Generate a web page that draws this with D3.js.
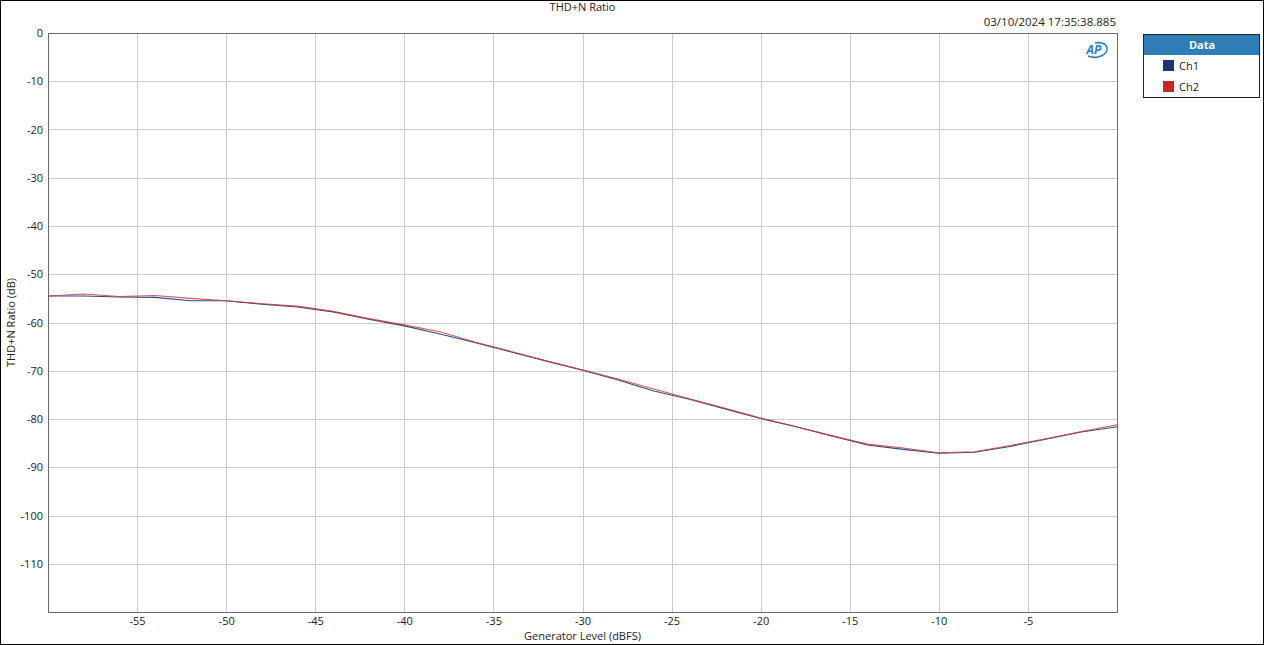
<!DOCTYPE html>
<html><head><meta charset="utf-8">
<script src="https://cdn.jsdelivr.net/npm/d3@7"></script>
<style>
html,body{margin:0;padding:0;background:#fff;}
svg{display:block;}
text{font-family:"Open Sans","Noto Sans",sans-serif;}
</style></head>
<body>
<script>
// ---- data ----
const levels = [-60,-58,-56,-54,-52,-50,-48,-46,-44,-42,-40,-38,-36,-34,-32,-30,-28,-26,-24,-22,-20,-18,-16,-14,-12,-10,-8,-6,-4,-2,0];
const ch1 = [-54.5,-54.5,-54.7,-54.8,-55.5,-55.5,-56.2,-56.8,-57.8,-59.3,-60.7,-62.4,-64.2,-66.1,-68.0,-69.9,-71.9,-74.2,-75.9,-77.9,-79.9,-81.6,-83.5,-85.4,-86.3,-87.1,-86.9,-85.7,-84.2,-82.7,-81.6];
const ch2 = [-54.5,-54.1,-54.6,-54.4,-55.0,-55.5,-56.1,-56.6,-57.7,-59.2,-60.5,-61.9,-64.1,-66.0,-68.0,-69.8,-71.7,-73.8,-75.8,-77.8,-79.8,-81.6,-83.5,-85.2,-86.0,-87.0,-86.8,-85.5,-84.1,-82.6,-81.2];
const xTicks = [-55,-50,-45,-40,-35,-30,-25,-20,-15,-10,-5];
const yTicks = [0,-10,-20,-30,-40,-50,-60,-70,-80,-90,-100,-110];
const seriesNames = ["Ch1","Ch2"];
const seriesColors = ["#2b4a8c","#d23a3a"];
const swatchColors = ["#1a3478","#c8252a"];

const W=1264,H=645;
const L=48,R=1117,T=33,B=612;
const svg=d3.select("body").append("svg").attr("width",W).attr("height",H);
svg.append("rect").attr("x",0.5).attr("y",0.5).attr("width",W-1).attr("height",H-1).attr("fill","#fff").attr("stroke","#000");

const x=d3.scaleLinear().domain([-60,0]).range([L,R]);
const y=d3.scaleLinear().domain([-120,0]).range([B,T]);
const fmt=d=>String(d);

// grid
const g=svg.append("g");
g.selectAll(".vg").data(xTicks).join("line").attr("x1",d=>Math.round(x(d))+0.5).attr("x2",d=>Math.round(x(d))+0.5).attr("y1",T).attr("y2",B).attr("stroke","#cccccc");
g.selectAll(".hg").data(yTicks.slice(1)).join("line").attr("y1",d=>Math.round(y(d))+0.5).attr("y2",d=>Math.round(y(d))+0.5).attr("x1",L).attr("x2",R).attr("stroke","#cccccc");

// axes
const xa=svg.append("g").attr("transform",`translate(0,${B})`).call(d3.axisBottom(x).tickValues(xTicks).tickSize(0).tickPadding(5).tickFormat(fmt));
xa.select(".domain").remove();
const ya=svg.append("g").attr("transform",`translate(${L},0)`).call(d3.axisLeft(y).tickValues(yTicks).tickSize(0).tickPadding(5).tickFormat(fmt));
ya.select(".domain").remove();
svg.selectAll(".tick text").attr("font-size","11px").attr("fill","#222").attr("font-family","'Open Sans','Noto Sans',sans-serif");

// frame
svg.append("rect").attr("x",L+0.5).attr("y",T+0.5).attr("width",R-L).attr("height",B-T).attr("fill","none").attr("stroke","#6a6a6a");

// lines
const line=d3.line().x((d,i)=>x(levels[i])).y(d=>y(d));
[ch1,ch2].forEach((s,k)=>{
  svg.append("path").datum(s).attr("d",line).attr("fill","none").attr("stroke",seriesColors[k]).attr("stroke-width",1.1).attr("stroke-opacity",k===1?0.85:1);
});

// texts
svg.append("text").attr("x",(L+R)/2).attr("y",11).attr("text-anchor","middle").attr("font-size","11px").attr("fill","#222").text("THD+N Ratio");
svg.append("text").attr("x",R-1).attr("y",26).attr("text-anchor","end").attr("font-size","11.5px").attr("fill","#222").text("03/10/2024 17:35:38.885");
svg.append("text").attr("x",(L+R)/2).attr("y",640).attr("text-anchor","middle").attr("font-size","11px").attr("fill","#222").text("Generator Level (dBFS)");
svg.append("text").attr("transform",`translate(15,${(T+B)/2}) rotate(-90)`).attr("text-anchor","middle").attr("font-size","11px").attr("fill","#222").text("THD+N Ratio (dB)");

// AP logo
const lg=svg.append("g").attr("transform","translate(1096,50)");
lg.append("path").attr("d","M-8,6 C2,10 12,4 11,-2 C10,-7 4,-8 -1,-7").attr("fill","none").attr("stroke","#2b7fc6").attr("stroke-width",1.6);
lg.append("text").attr("x",-2).attr("y",4).attr("text-anchor","middle").attr("font-size","12px").attr("font-style","italic").attr("font-weight","bold").attr("fill","#2b7fc6").text("AP");

// legend
const lx=1143,ly=34,lw=116,lh=63;
svg.append("rect").attr("x",lx+0.5).attr("y",ly+0.5).attr("width",lw).attr("height",lh).attr("fill","#fff").attr("stroke","#222");
svg.append("rect").attr("x",lx+1).attr("y",ly+1).attr("width",lw-1).attr("height",20).attr("fill","#2f7db8");
svg.append("text").attr("x",lx+lw/2+1).attr("y",ly+15).attr("text-anchor","middle").attr("font-size","11px").attr("font-weight","bold").attr("fill","#fff").text("Data");
seriesNames.forEach((n,i)=>{
  const yy=ly+26+i*21;
  svg.append("rect").attr("x",lx+20).attr("y",yy).attr("width",11).attr("height",11).attr("fill",swatchColors[i]);
  svg.append("text").attr("x",lx+36).attr("y",yy+10).attr("font-size","11px").attr("fill","#222").text(n);
});
</script>
</body></html>
